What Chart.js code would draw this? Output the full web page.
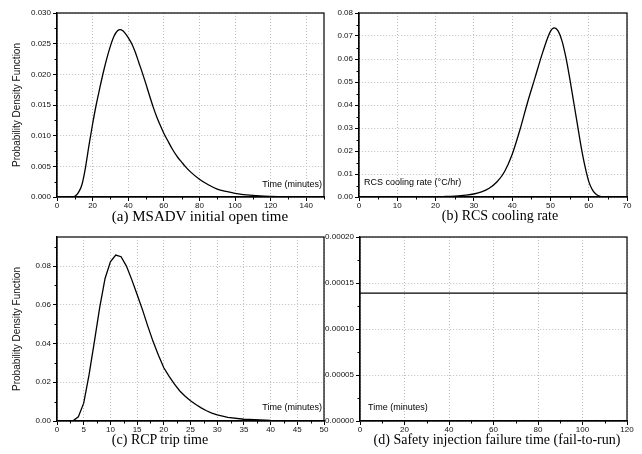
<!DOCTYPE html>
<html>
<head>
<meta charset="utf-8">
<script src="https://cdn.jsdelivr.net/npm/chart.js@4.4.1/dist/chart.umd.min.js"></script>
<style>
  body { margin: 0; background: #fff; }
  #wrap { position: relative; width: 642px; height: 454px; overflow: hidden; }
  canvas { position: absolute; }
  .cap { position: absolute; font-family: "Liberation Serif", "Times New Roman", serif; font-size: 14px; line-height: 16px; color: #000; white-space: nowrap; transform: translate(-50%, -50%); }
</style>
</head>
<body>
<div id="wrap">
  <canvas id="ca" width="330" height="215" style="left:0;top:0"></canvas>
  <canvas id="cb" width="320" height="215" style="left:322px;top:0"></canvas>
  <canvas id="cc" width="330" height="216" style="left:0;top:224px"></canvas>
  <canvas id="cd" width="320" height="216" style="left:322px;top:224px"></canvas>
  <div class="cap" style="left:200px;top:216px;font-size:15px">(a) MSADV initial open time</div>
  <div class="cap" style="left:500px;top:216px">(b) RCS cooling rate</div>
  <div class="cap" style="left:160px;top:440px">(c) RCP trip time</div>
  <div class="cap" style="left:497px;top:440px">(d) Safety injection failure time (fail-to-run)</div>
</div>
<script>
// (a) MSADV initial open time, minutes
const msadvTime = [0, 8, 10, 12, 14, 16, 18, 20, 22, 24, 26, 28, 30, 32, 34, 35.5, 37, 38, 40, 42, 44, 46, 48, 50, 52, 54, 56, 58, 60, 62, 65, 68, 70, 72, 75, 80, 85, 90, 95, 100, 110, 120, 130, 140];
const msadvPdf = [0, 0, 0.0001, 0.0007, 0.002, 0.0048, 0.0085, 0.0119, 0.015, 0.0177, 0.0203, 0.0226, 0.0246, 0.0262, 0.0271, 0.0273, 0.0271, 0.0268, 0.026, 0.025, 0.0236, 0.0219, 0.0202, 0.0184, 0.0165, 0.0147, 0.0131, 0.0117, 0.0104, 0.0093, 0.0077, 0.0064, 0.0057, 0.005, 0.0041, 0.0029, 0.002, 0.0013, 0.0009, 0.0006, 0.00025, 0.0001, 0.00004, 0.00002];

// (b) RCS cooling rate, degC/hr
const coolRate = [0, 10, 20, 22, 24, 26, 28, 30, 32, 34, 36, 38, 40, 42, 44, 46, 48, 50, 51, 52, 53, 54, 55, 56, 57, 58, 59, 60, 61, 62, 63, 64, 65, 70];
const coolPdf = [0, 0, 0.0001, 0.0002, 0.0003, 0.0005, 0.0008, 0.0013, 0.0022, 0.0038, 0.0065, 0.011, 0.0185, 0.029, 0.041, 0.052, 0.063, 0.072, 0.0735, 0.0722, 0.068, 0.061, 0.052, 0.042, 0.032, 0.022, 0.0135, 0.0068, 0.003, 0.0011, 0.0003, 0.0001, 0, 0];

// (c) RCP trip time, minutes
const rcpTime = [0, 1, 2, 3, 4, 5, 6, 7, 8, 9, 10, 11, 12, 13, 14, 15, 16, 17, 18, 19, 20, 21, 22, 23, 24, 25, 26, 27, 28, 29, 30, 32, 35, 40, 45, 50];
const rcpPdf = [0, 0, 0, 0.0001, 0.0022, 0.0092, 0.0238, 0.041, 0.0587, 0.0736, 0.0822, 0.0857, 0.0848, 0.08, 0.073, 0.0653, 0.0575, 0.049, 0.041, 0.034, 0.0275, 0.023, 0.019, 0.0155, 0.0128, 0.0104, 0.0085, 0.0068, 0.0053, 0.0041, 0.0032, 0.0019, 0.0009, 0.0003, 0.0001, 0];

// (d) Safety injection fail-to-run, constant rate
const siTime = [0, 120];
const siPdf = [0.000139, 0.000139];

const tickFont = { family: 'Liberation Sans, Arial, sans-serif', size: 8 };

// box round the plot area (Origin style)
const framePlugin = {
  id: 'frame',
  afterDraw(chart) {
    const { ctx, chartArea: a } = chart;
    ctx.save();
    ctx.strokeStyle = '#000';
    ctx.lineWidth = 1.2;
    ctx.strokeRect(a.left, a.top, a.right - a.left, a.bottom - a.top);
    ctx.restore();
  }
};

// minor ticks half way between the labelled ones
const minorPlugin = {
  id: 'minor',
  afterDraw(chart, args, opts) {
    const { ctx, scales: { x, y } } = chart;
    ctx.save();
    ctx.strokeStyle = '#000';
    ctx.lineWidth = 1;
    ctx.beginPath();
    const nx = Math.round((x.max - x.min) / opts.x);
    for (let i = 1; i <= nx; i += 2) {
      const px = Math.round(x.getPixelForValue(x.min + i * opts.x)) + 0.5;
      ctx.moveTo(px, x.top);
      ctx.lineTo(px, x.top + 2.5);
    }
    const ny = Math.round((y.max - y.min) / opts.y);
    for (let i = 1; i <= ny; i += 2) {
      const py = Math.round(y.getPixelForValue(y.min + i * opts.y)) + 0.5;
      ctx.moveTo(y.right, py);
      ctx.lineTo(y.right - 2.5, py);
    }
    ctx.stroke();
    ctx.restore();
  }
};

const notePlugin = {
  id: 'note',
  afterDraw(chart, args, opts) {
    const { ctx, chartArea: a } = chart;
    ctx.save();
    ctx.font = '9px "Liberation Sans", Arial, sans-serif';
    ctx.fillStyle = '#000';
    ctx.textBaseline = 'middle';
    ctx.textAlign = opts.align;
    const x = opts.align === 'right' ? a.right - opts.dx : a.left + opts.dx;
    ctx.fillText(opts.text, x, a.bottom - opts.dy);
    ctx.restore();
  }
};

function makeChart(id, xs, ys, p) {
  const pts = xs.map((v, i) => ({ x: v, y: ys[i] }));
  return new Chart(document.getElementById(id), {
    type: 'line',
    data: {
      datasets: [{
        data: pts,
        borderColor: '#000',
        borderWidth: 1.3,
        pointRadius: 0,
        fill: false,
        tension: p.smooth ? 0.4 : 0,
        cubicInterpolationMode: p.smooth ? 'monotone' : 'default'
      }]
    },
    options: {
      responsive: false,
      animation: false,
      events: [],
      layout: { padding: { top: 13, right: p.padRight, left: 0, bottom: 0 } },
      plugins: {
        legend: { display: false },
        tooltip: { enabled: false },
        minor: { x: p.xMinor, y: p.yMinor },
        note: p.note
      },
      scales: {
        x: {
          type: 'linear',
          min: p.xMin, max: p.xMax,
          afterFit: s => { s.height = p.xH; },
          border: { display: true, color: '#000', width: 1.2, dash: [1, 2] },
          grid: { color: '#bdbdbd', lineWidth: 1, tickColor: '#000', tickLength: 4, tickBorderDash: [] },
          ticks: {
            stepSize: p.xStep, includeBounds: p.xBounds,
            autoSkip: false, maxRotation: 0, padding: 0,
            color: '#111', font: tickFont,
            callback: v => String(Math.round(v * 10) / 10)
          }
        },
        y: {
          type: 'linear',
          min: 0, max: p.yMax,
          afterFit: s => { s.width = p.yW; },
          border: { display: true, color: '#000', width: 1.2, dash: [1, 2] },
          grid: { color: '#bdbdbd', lineWidth: 1, tickColor: '#000', tickLength: 4, tickBorderDash: [] },
          title: {
            display: p.yTitle,
            text: 'Probability Density Function',
            color: '#111',
            font: { family: 'Liberation Sans, Arial, sans-serif', size: 10 },
            padding: { top: 11, bottom: 0 }
          },
          ticks: {
            stepSize: p.yStep, includeBounds: false,
            autoSkip: false, padding: 2,
            color: '#111', font: tickFont,
            callback: v => v.toFixed(p.yDec)
          }
        }
      }
    },
    plugins: [framePlugin, minorPlugin, notePlugin]
  });
}

makeChart('ca', msadvTime, msadvPdf, {
  smooth: true, padRight: 6, xH: 18, yW: 57, yTitle: true,
  xMin: 0, xMax: 150, xStep: 20, xBounds: false, xMinor: 10,
  yMax: 0.030, yStep: 0.005, yDec: 3, yMinor: 0.0025,
  note: { text: 'Time (minutes)', align: 'right', dx: 2, dy: 12 }
});

makeChart('cb', coolRate, coolPdf, {
  smooth: true, padRight: 15, xH: 18, yW: 37, yTitle: false,
  xMin: 0, xMax: 70, xStep: 10, xBounds: true, xMinor: 5,
  yMax: 0.08, yStep: 0.01, yDec: 2, yMinor: 0.005,
  note: { text: 'RCS cooling rate (°C/hr)', align: 'left', dx: 5, dy: 14 }
});

makeChart('cc', rcpTime, rcpPdf, {
  smooth: false, padRight: 6, xH: 19, yW: 57, yTitle: true,
  xMin: 0, xMax: 50, xStep: 5, xBounds: true, xMinor: 2.5,
  yMax: 0.095, yStep: 0.02, yDec: 2, yMinor: 0.01,
  note: { text: 'Time (minutes)', align: 'right', dx: 2, dy: 13 }
});

makeChart('cd', siTime, siPdf, {
  smooth: false, padRight: 15, xH: 19, yW: 38, yTitle: false,
  xMin: 0, xMax: 120, xStep: 20, xBounds: true, xMinor: 10,
  yMax: 0.0002, yStep: 0.00005, yDec: 5, yMinor: 0.000025,
  note: { text: 'Time (minutes)', align: 'left', dx: 8, dy: 13 }
});
</script>
</body>
</html>
